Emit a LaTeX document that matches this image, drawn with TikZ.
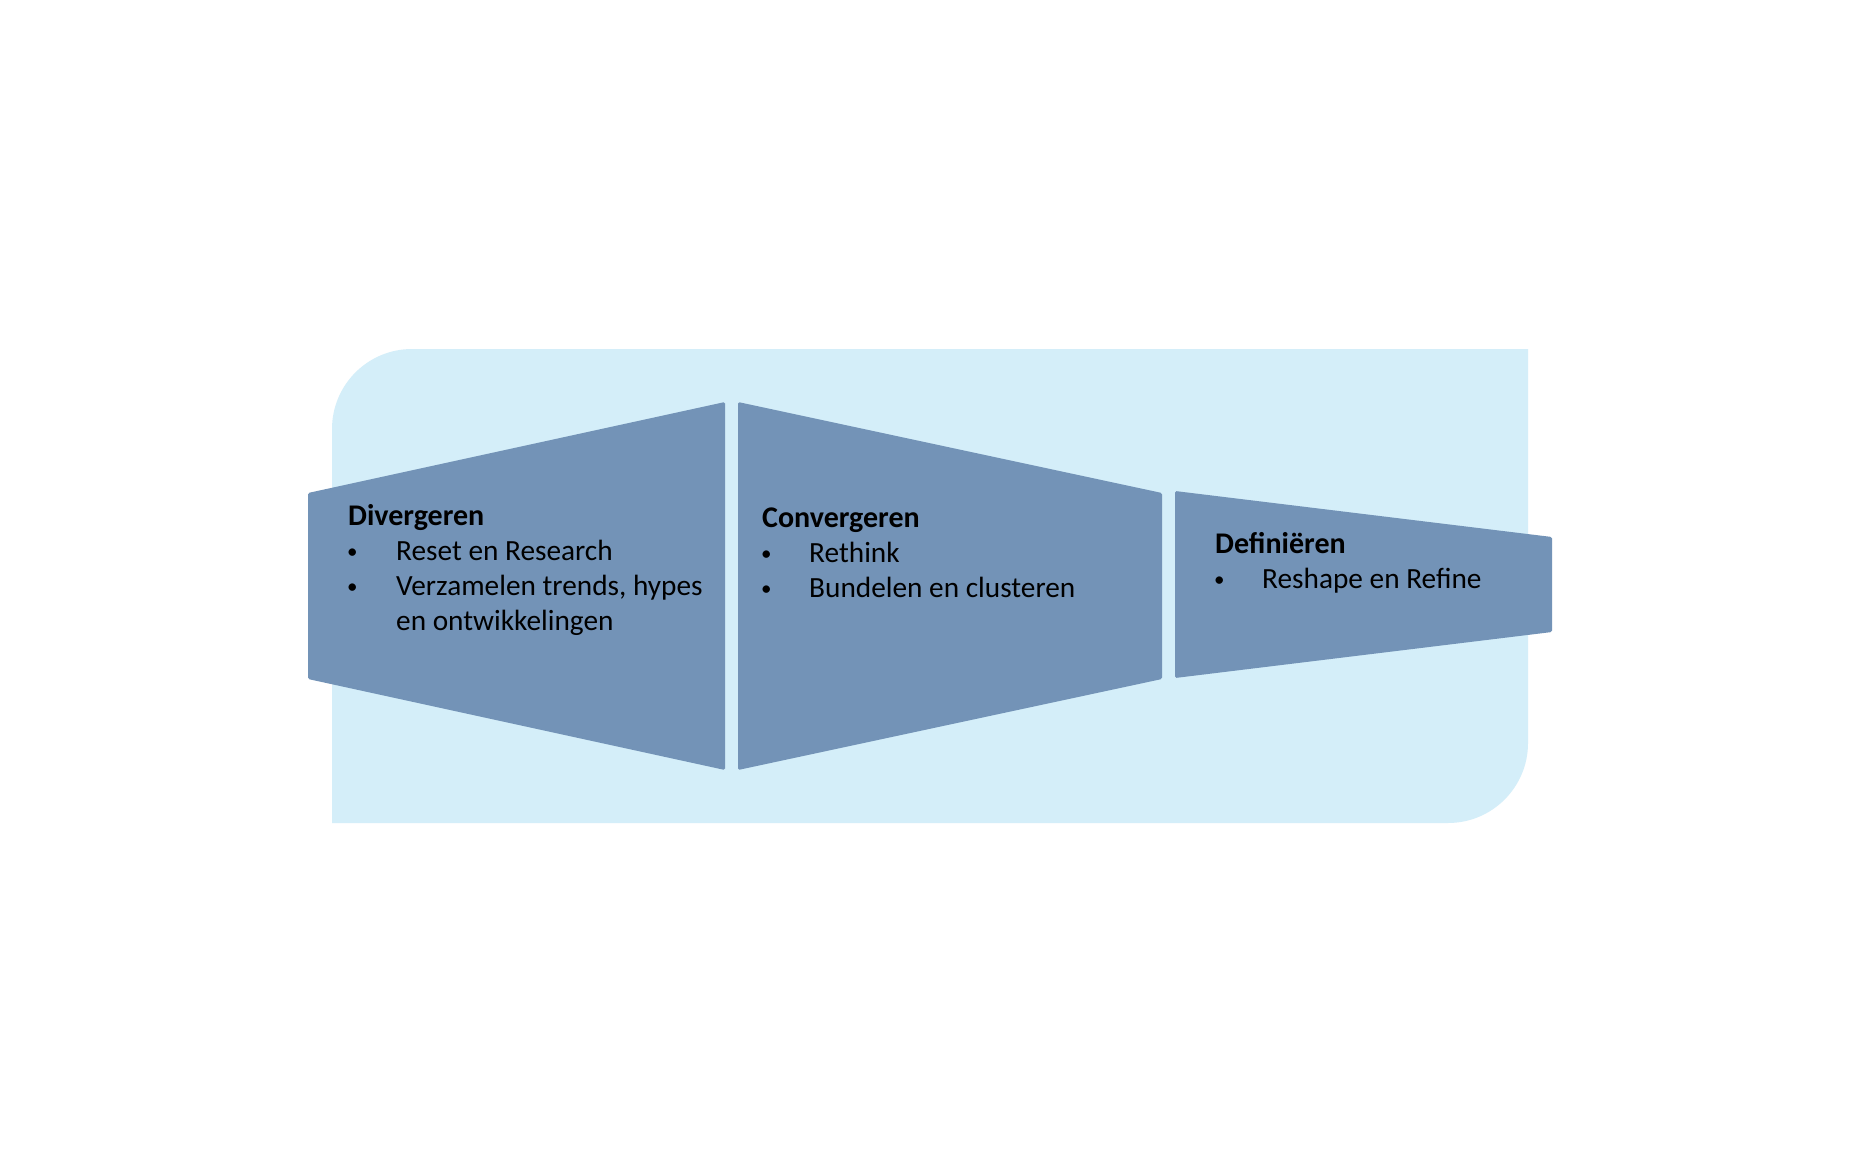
\documentclass[tikz,border=0pt]{standalone}
\usepackage{fontspec}
\setmainfont{Carlito}
\usepackage{tikz}
\usetikzlibrary{positioning}

\definecolor{backblue}{RGB}{212,238,249}
\definecolor{stageblue}{RGB}{115,147,183}

\tikzset{
  stage/.style={fill=stageblue, rounded corners=1.5pt},
  title/.style={anchor=base west, inner sep=0pt, font=\fontsize{30}{35}\selectfont\bfseries},
  item/.style={anchor=base west, inner sep=0pt, font=\fontsize{29.3}{34}\selectfont},
  dot/.style={anchor=base west, inner sep=0pt, font=\fontsize{21}{25}\selectfont}
}

\begin{document}
\begin{tikzpicture}[x=1pt, y=-1pt]
            \useasboundingbox[fill=white] (0,0) rectangle (1860,1172);
            % background panel
            \fill[backblue] (332,823) -- (332,429) arc[start angle=180, end angle=270, radius=80]
                -- (1528,349) -- (1528,743) arc[start angle=0, end angle=90, radius=80] -- cycle;
            % the three stages
            \fill[stage] (308,493) -- (725,402) -- (725,770) -- (308,679) -- cycle;
            \fill[stage] (738,402) -- (1162,493) -- (1162,679) -- (738,770) -- cycle;
            \fill[stage] (1175,491) -- (1552,537) -- (1552,632) -- (1175,678) -- cycle;
            % Divergeren
            \node[title] (Div) at (348,525) {Divergeren};
            \node[dot] (DivDotA) at (347,558) {\textbullet};
            \node[item] (DivA) at (396,560) {Reset en Research};
            \node[dot] (DivDotB) at (347,593) {\textbullet};
            \node[item] (DivB) at (396,595) {Verzamelen trends, hypes};
            \node[item] (DivC) at (396,630) {en ontwikkelingen};
            % Convergeren
            \node[title] (Con) at (762,527) {Convergeren};
            \node[dot] (ConDotA) at (761,560) {\textbullet};
            \node[item] (ConA) at (809,562) {Rethink};
            \node[dot] (ConDotB) at (761,595) {\textbullet};
            \node[item] (ConB) at (809,597) {Bundelen en clusteren};
            % Definieren
            \node[title] (Def) at (1215,553) {Definiëren};
            \node[dot] (DefDotA) at (1214,586) {\textbullet};
            \node[item] (DefA) at (1262,588) {Reshape en Refine};
        \end{tikzpicture}
\end{document}
